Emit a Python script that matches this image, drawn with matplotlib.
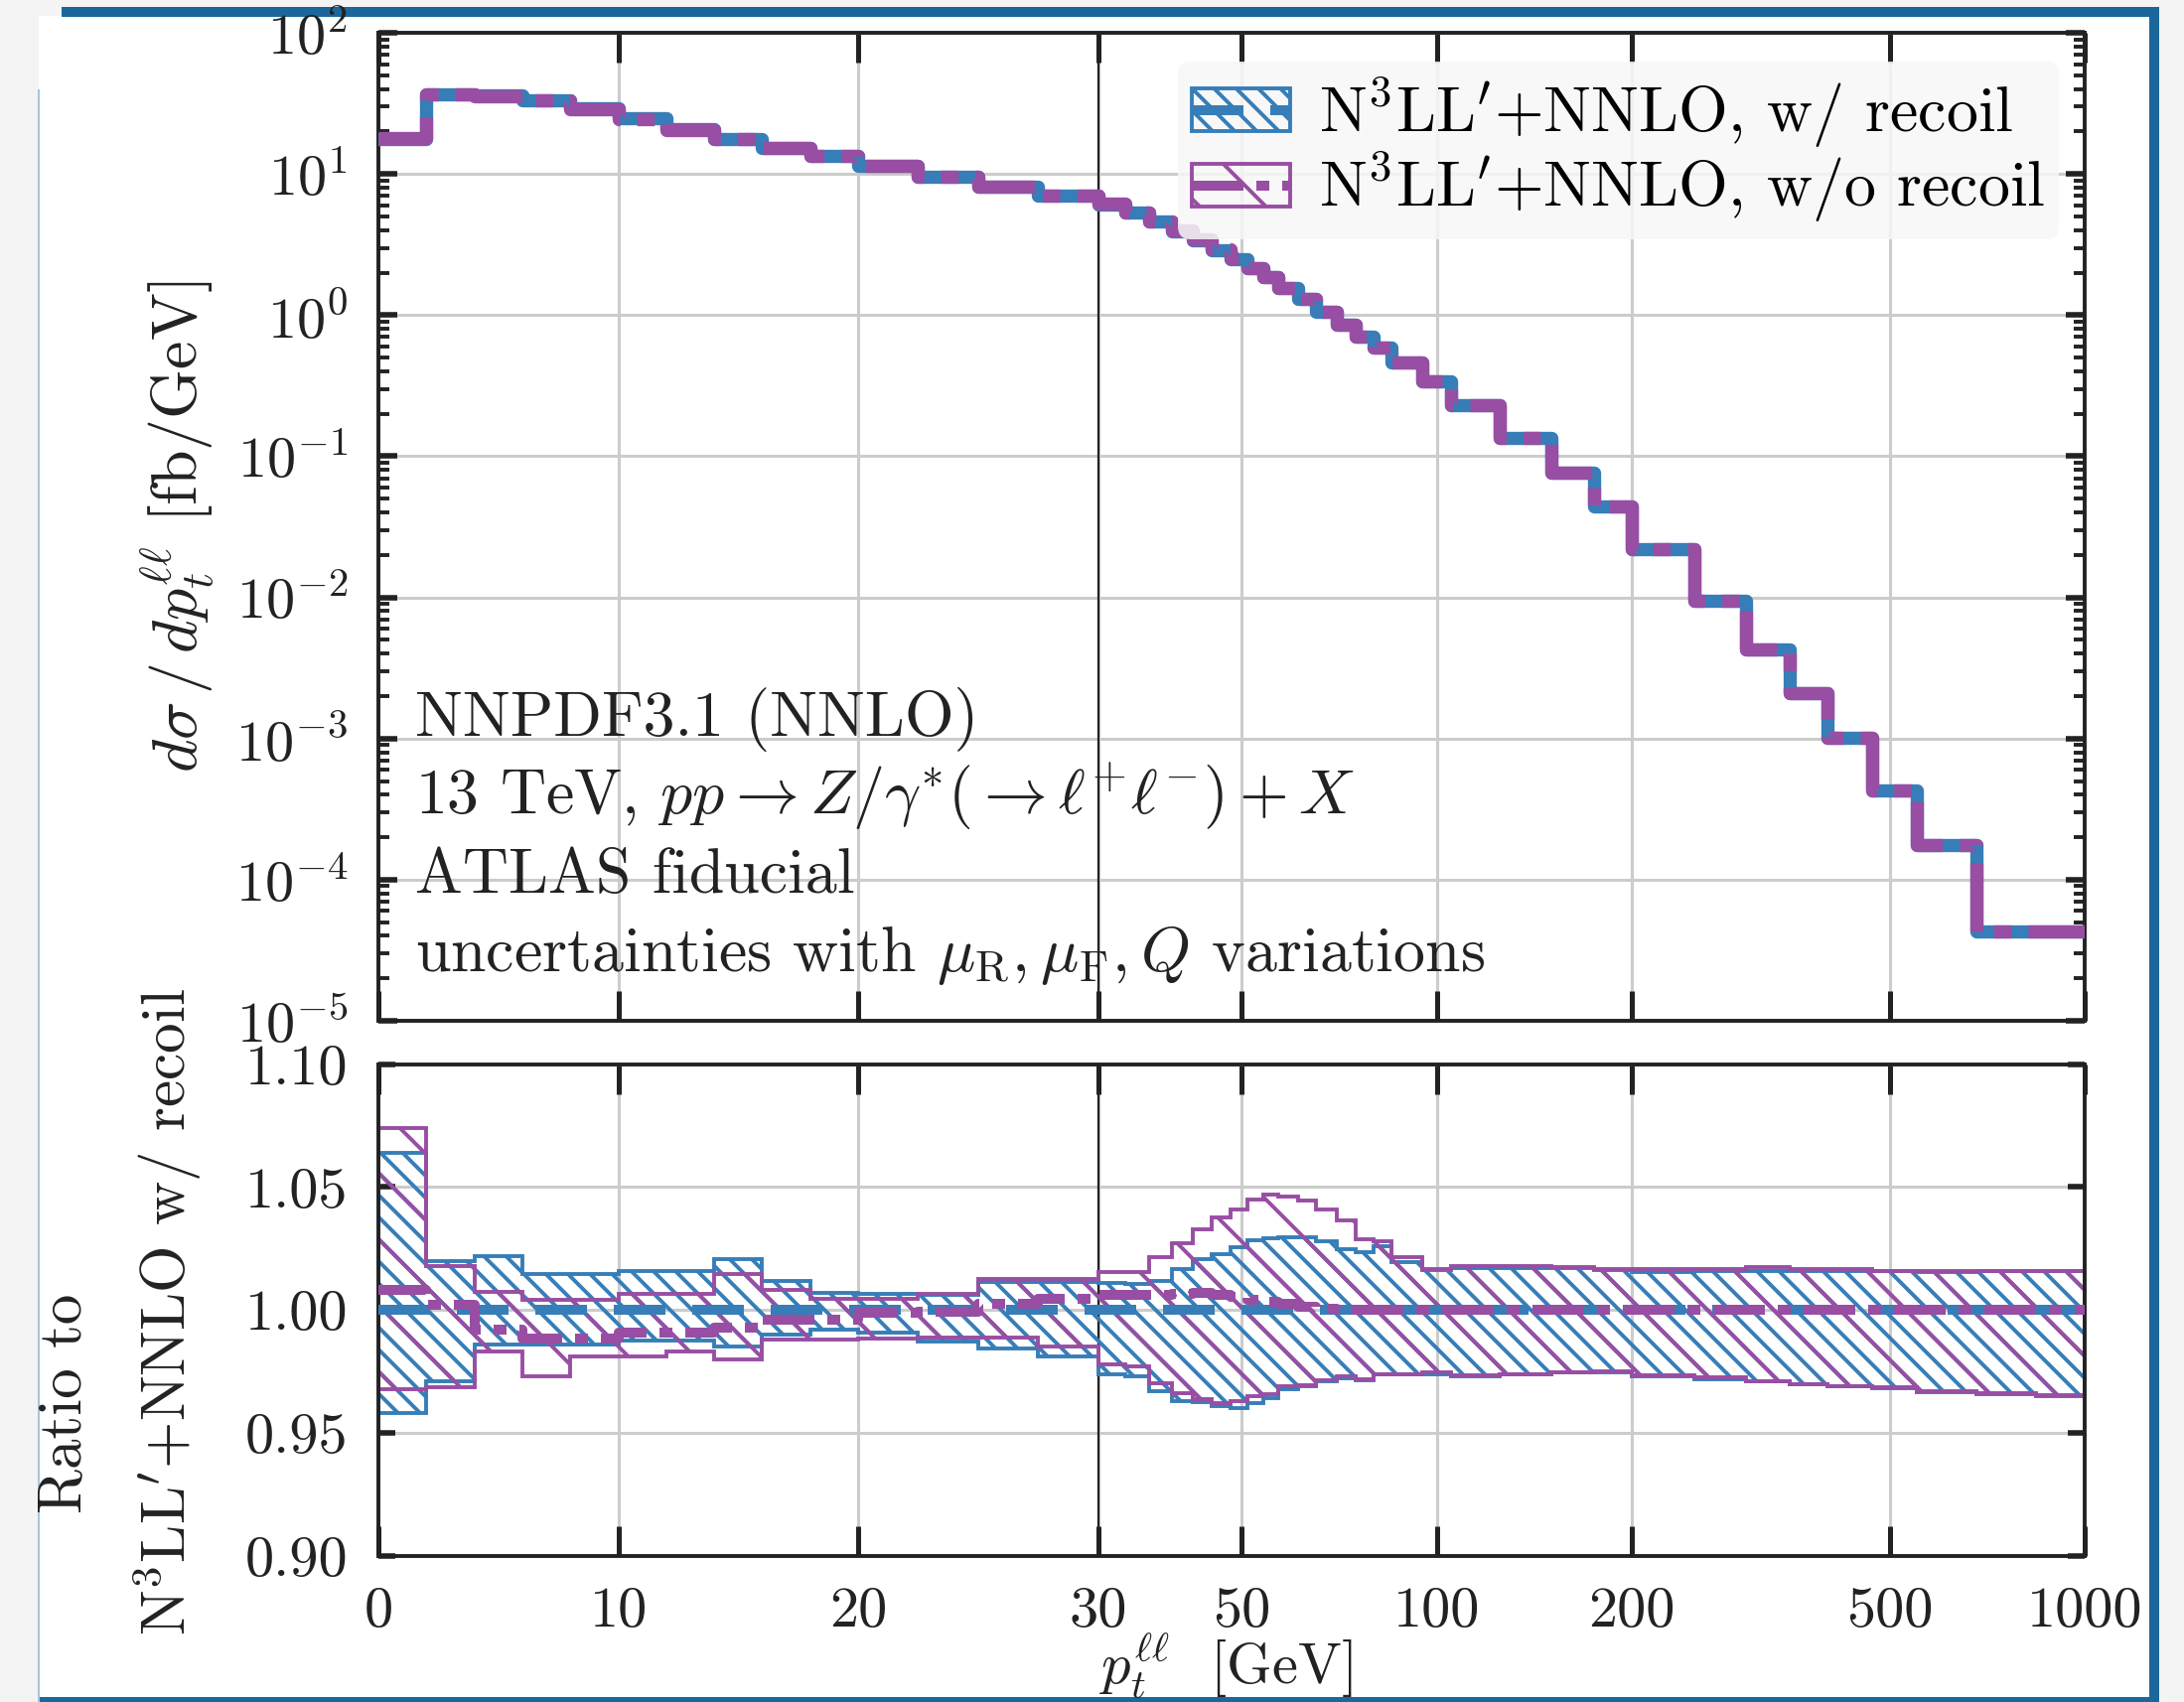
import numpy as np
import matplotlib
matplotlib.use("Agg")
import matplotlib.pyplot as plt
from matplotlib.patches import Patch, Rectangle
from matplotlib.lines import Line2D
from matplotlib.legend_handler import HandlerTuple
from matplotlib.ticker import FixedLocator, NullLocator, LogLocator, NullFormatter

plt.rcParams.update({
    "font.family": "serif",
    "font.serif": ["cmr10"],
    "mathtext.fontset": "cm",
    "axes.unicode_minus": False,
    "axes.formatter.use_mathtext": True,
    "hatch.linewidth": 1.4,
    "font.size": 21,
})

# ---------------------------------------------------------------------------
# Data
# ---------------------------------------------------------------------------
edges = [0, 2, 4, 6, 8, 10, 12, 14, 16, 18, 20, 22.5, 25, 27.5, 30, 33, 36, 39,
         42, 45, 48, 51, 54, 57, 61, 65, 70, 75, 80, 85, 95, 105, 125, 150, 175,
         200, 250, 300, 350, 400, 470, 550, 680, 840, 1000]

# dsigma/dpt, N3LL'+NNLO w/ recoil [fb/GeV]
xs_recoil = [17.7, 36.5, 36.0, 33.5, 29.0, 24.8, 20.8, 17.7, 15.4, 13.5, 11.5,
             9.6, 8.1, 7.0, 6.1, 5.3, 4.6, 3.95, 3.4, 2.9, 2.5, 2.15, 1.85,
             1.55, 1.3, 1.06, 0.86, 0.71, 0.59, 0.46, 0.34, 0.23, 0.135, 0.077,
             0.044, 0.022, 0.0094, 0.0043, 0.0021, 0.00102, 0.00043, 0.000175,
             4.3e-5, 4.3e-5]

# ratio of w/o recoil central value to w/ recoil
ratio_norecoil = [1.008, 1.002, 0.992, 0.9886, 0.9886, 0.991, 0.991, 0.993,
                  0.996, 0.996, 0.999, 0.9993, 1.0027, 1.0047, 1.006, 1.0063,
                  1.0063, 1.0067, 1.007, 1.006, 1.0054, 1.004, 1.0035, 1.0027,
                  1.0015, 1.0007, 1.0003, 1.0, 1.0, 1.0, 1.0, 1.0, 1.0, 1.0,
                  1.0, 1.0, 1.0, 1.0, 1.0, 1.0, 1.0, 1.0, 1.0, 1.0]

# uncertainty bands, normalised to w/ recoil central
recoil_hi = [1.064, 1.020, 1.022, 1.0145, 1.0145, 1.0157, 1.0157, 1.0207, 1.012,
             1.007, 1.0067, 1.0063, 1.0114, 1.0114, 1.011, 1.0108, 1.012, 1.0166,
             1.0208, 1.0228, 1.0255, 1.0282, 1.0293, 1.0296, 1.0296, 1.028,
             1.0249, 1.0235, 1.026, 1.0195, 1.0161, 1.0172, 1.0172, 1.017,
             1.0164, 1.0155, 1.016, 1.016, 1.016, 1.016, 1.0158, 1.0155, 1.0158,
             1.0157]
recoil_lo = [0.958, 0.971, 0.986, 0.986, 0.986, 0.9875, 0.9875, 0.985, 0.990,
             0.992, 0.991, 0.987, 0.9845, 0.981, 0.974, 0.973, 0.967, 0.963,
             0.9624, 0.961, 0.960, 0.962, 0.964, 0.968, 0.969, 0.971, 0.9724,
             0.9715, 0.9738, 0.9738, 0.9738, 0.973, 0.9738, 0.9745, 0.9745,
             0.9731, 0.972, 0.971, 0.970, 0.969, 0.9684, 0.9667, 0.9657, 0.965]
norecoil_hi = [1.074, 1.018, 1.0074, 1.004, 1.004, 1.0065, 1.0065, 1.0148, 1.008,
               1.0047, 1.0047, 1.0067, 1.0128, 1.0128, 1.0155, 1.0155, 1.0215,
               1.027, 1.033, 1.0376, 1.041, 1.045, 1.0468, 1.046, 1.0446, 1.041,
               1.0363, 1.0289, 1.028, 1.0215, 1.0165, 1.0178, 1.0178, 1.0175,
               1.0168, 1.0165, 1.0168, 1.0175, 1.0165, 1.0165, 1.016, 1.0158,
               1.016, 1.016]
norecoil_lo = [0.968, 0.9688, 0.983, 0.973, 0.981, 0.981, 0.983, 0.980, 0.988,
               0.988, 0.9886, 0.989, 0.989, 0.985, 0.978, 0.977, 0.9704, 0.966,
               0.9637, 0.962, 0.963, 0.965, 0.9657, 0.969, 0.9695, 0.9715, 0.973,
               0.972, 0.974, 0.974, 0.9745, 0.9735, 0.974, 0.9748, 0.975, 0.9735,
               0.9725, 0.9712, 0.970, 0.9692, 0.9686, 0.967, 0.966, 0.9652]

xticks = [0, 10, 20, 30, 50, 100, 200, 500, 1000]
xticklabels = ["0", "10", "20", "30", "50", "100", "200", "500", "1000"]
labels = [r"N$^3$LL$^{\prime}$+NNLO, w/ recoil", r"N$^3$LL$^{\prime}$+NNLO, w/o recoil"]

# ---------------------------------------------------------------------------
# Style
# ---------------------------------------------------------------------------
W, H = 2199, 1714
BLUE = "#377eb8"
PURPLE = "#984ea3"
FRAME = "#1b679b"
INK = "#222222"
GRID = "#cccccc"
DASH_W = (5.2, 2.7)
DASH_WO = (5.2, 1.3, 1.3, 1.3)
FS_TEXT = 23

# linear up to 30 GeV, logarithmic above
K = 27.02
def fwd(x):
    x = np.asarray(x, dtype=float)
    with np.errstate(divide="ignore", invalid="ignore"):
        return np.where(x <= 30, x, 30 + K * np.log10(np.where(x > 30, x, 30) / 30))

def inv(y):
    y = np.asarray(y, dtype=float)
    with np.errstate(over="ignore"):
        return np.where(y <= 30, y, 30 * 10 ** ((np.where(y > 30, y, 30) - 30) / K))

edges_a = np.array(edges)
main_w = np.array(xs_recoil)
main_wo = main_w * np.array(ratio_norecoil)
rat_w = main_w / main_w
rat_wo = main_wo / main_w

def step_vals(v):
    return np.append(v, v[-1])

# ---------------------------------------------------------------------------
# Figure + card frame
# ---------------------------------------------------------------------------
fig = plt.figure(figsize=(W / 200, H / 200), dpi=200, facecolor="#f4f4f4")
tf = fig.transFigure
fig.patches.extend([
    Rectangle((39 / W, 1 - 1709 / H), (2164 - 39) / W, (1709 - 16) / H,
              transform=tf, facecolor="white", edgecolor="none", zorder=-10),
    Rectangle((62 / W, 1 - 17 / H), (2174 - 62) / W, 10 / H,
              transform=tf, facecolor=FRAME, edgecolor="none", zorder=-9),
    Rectangle((2164 / W, 0), 10 / W, (1714 - 8) / H,
              transform=tf, facecolor=FRAME, edgecolor="none", zorder=-9),
    Rectangle((39 / W, 0), (2174 - 39) / W, 5 / H,
              transform=tf, facecolor=FRAME, edgecolor="none", zorder=-9),
    Rectangle((38 / W, 0), 2 / W, (1714 - 90) / H,
              transform=tf, facecolor="#a8c5dc", edgecolor="none", zorder=-9),
])

ax1 = fig.add_axes([0.1733, 0.4002, 0.7813, 0.5805])
ax2 = fig.add_axes([0.1733, 0.0858, 0.7813, 0.2890])

for ax in (ax1, ax2):
    ax.set_xscale("function", functions=(fwd, inv))
    ax.set_xlim(0, 1000)
    ax.xaxis.set_major_locator(FixedLocator(xticks))
    ax.xaxis.set_minor_locator(NullLocator())
    ax.set_axisbelow(True)
    ax.grid(True, which="major", color=GRID, lw=1.1)
    ax.axvline(30, color=INK, lw=0.8, zorder=1.5)
    for s in ax.spines.values():
        s.set_linewidth(1.4)
        s.set_color(INK)
    ax.tick_params(which="both", direction="in", top=True, right=True, colors=INK,
                   labelsize=21)
    ax.tick_params(axis="x", which="major", length=10.8, width=1.8, pad=11)
    ax.tick_params(axis="y", which="major", pad=11)

# --- main panel -------------------------------------------------------------
ax1.set_yscale("log")
ax1.set_ylim(1e-5, 1e2)
ax1.set_yticks([10.0 ** e for e in range(-5, 3)],
               [r"$10^{%d}$" % e for e in range(-5, 3)])
ax1.yaxis.set_minor_locator(LogLocator(base=10, subs=np.arange(2, 10), numticks=20))
ax1.yaxis.set_minor_formatter(NullFormatter())
ax1.tick_params(axis="y", which="major", length=7, width=2.0)
ax1.tick_params(axis="y", which="minor", length=4, width=1.4)
ax1.tick_params(axis="x", labelbottom=False)

ax1.step(edges_a, step_vals(main_w), where="post", color=BLUE, lw=4.8,
         solid_joinstyle="round", zorder=3)
ax1.step(edges_a, step_vals(main_wo), where="post", color=PURPLE, lw=4.8,
         dashes=DASH_WO, dash_joinstyle="round", zorder=4)

info = ["NNPDF3.1 (NNLO)",
        r"13 TeV, $pp \to Z/\gamma^{*}(\to \ell^{+}\ell^{-}) + X$",
        "ATLAS fiducial",
        r"uncertainties with $\mu_\mathrm{R}, \mu_\mathrm{F}, Q$ variations"]
for i, line in enumerate(info):
    ax1.text(0.0215, 0.289 - i * 0.0795, line, transform=ax1.transAxes,
             ha="left", va="baseline", fontsize=FS_TEXT, color=INK)

h_w = (Patch(facecolor="none", edgecolor=BLUE, hatch="\\\\\\", lw=1.4),
       Line2D([], [], color=BLUE, lw=3.6, dashes=DASH_W))
h_wo = (Patch(facecolor="none", edgecolor=PURPLE, hatch="\\", lw=1.4),
        Line2D([], [], color=PURPLE, lw=3.6, dashes=DASH_WO))
leg = ax1.legend([h_w, h_wo], labels, handler_map={tuple: HandlerTuple(ndivide=1)},
                 loc="upper right", bbox_to_anchor=(0.985, 0.971), borderaxespad=0,
                 frameon=True, facecolor="#f7f7f7", edgecolor="none", framealpha=0.85,
                 handlelength=1.55, handleheight=0.66, handletextpad=0.45,
                 labelspacing=0.0, borderpad=0.22, fontsize=FS_TEXT)
leg.get_frame().set_boxstyle("round,pad=0,rounding_size=0.2")

# --- ratio panel ------------------------------------------------------------
ax2.set_ylim(0.90, 1.10)
ax2.set_yticks([0.90, 0.95, 1.00, 1.05, 1.10],
               ["0.90", "0.95", "1.00", "1.05", "1.10"])
ax2.tick_params(axis="y", which="major", length=6, width=2.0)
ax2.set_xticklabels(xticklabels)

ax2.stairs(recoil_hi, edges_a, baseline=recoil_lo, fill=True, facecolor="none",
           edgecolor=BLUE, hatch="\\\\\\", lw=1.4, zorder=2)
ax2.stairs(norecoil_hi, edges_a, baseline=norecoil_lo, fill=True, facecolor="none",
           edgecolor=PURPLE, hatch="\\", lw=1.4, zorder=2.2)
ax2.step(edges_a, step_vals(rat_w), where="post", color=BLUE, lw=3.6,
         dashes=DASH_W, zorder=3)
ax2.step(edges_a, step_vals(rat_wo), where="post", color=PURPLE, lw=3.6,
         dashes=DASH_WO, zorder=4)

# --- axis labels ------------------------------------------------------------
fig.text(0.0818, 0.6905, r"$d\sigma\,/\,dp_t^{\ell\ell}$ [fb/GeV]", rotation=90,
         ha="center", va="center", fontsize=23, color=INK)
fig.text(0.0300, 0.1753, "Ratio to", rotation=90, ha="center", va="center",
         fontsize=22, color=INK)
fig.text(0.0766, 0.2293, r"N$^3$LL$^{\prime}$+NNLO w/ recoil", rotation=90,
         ha="center", va="center", fontsize=22, color=INK)
fig.text(0.5613, 0.0215, r"$p_t^{\ell\ell}$  [GeV]", ha="center", va="center",
         fontsize=21, color=INK)

fig.savefig("out.png", dpi=200, facecolor=fig.get_facecolor())
